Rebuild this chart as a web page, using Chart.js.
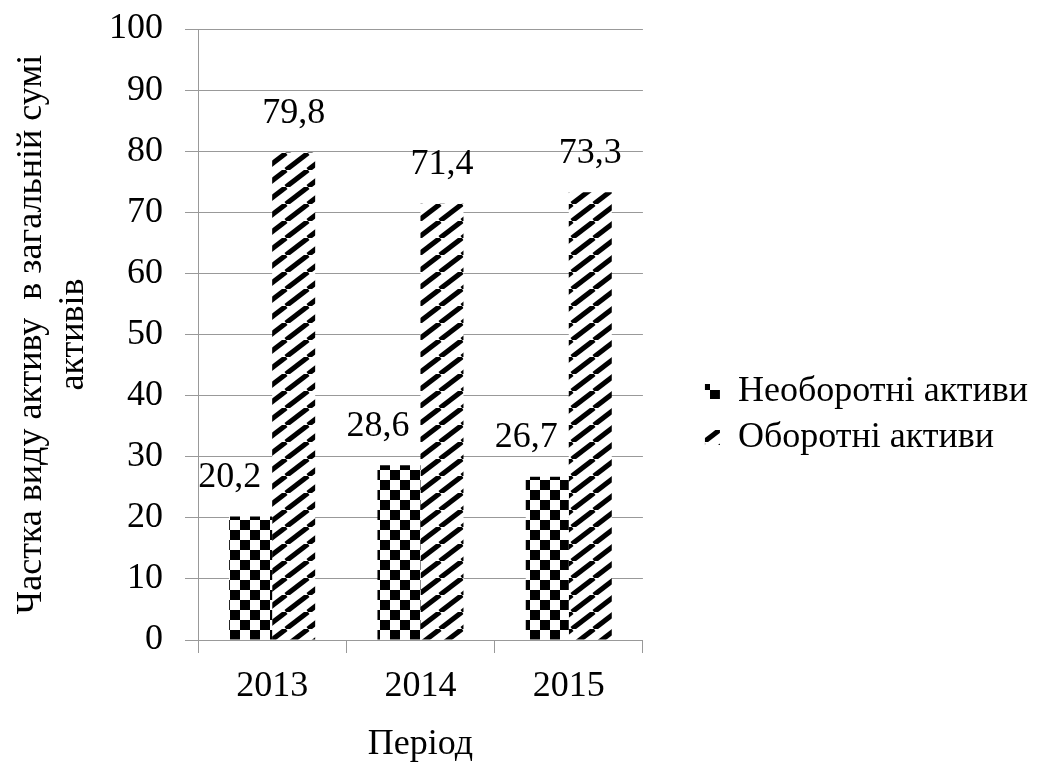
<!DOCTYPE html>
<html lang="uk">

<head>
    <meta charset="UTF-8">
    <title>Структура активів</title>
    <style>
        body { margin: 0; background: #fff; }
        #wrap { width: 1053px; height: 763px; }
    </style>
</head>

<body>

    <div id="wrap">
        <canvas id="myChart" width="1053" height="763"></canvas>
    </div>

    <script src="https://cdnjs.cloudflare.com/ajax/libs/Chart.js/4.4.1/chart.umd.js"></script>

    <script>
        // chart data
        var periods = ['2013', '2014', '2015'];
        var seriesNames = ['Необоротні активи', 'Оборотні активи'];
        var nonCurrent = [20.2, 28.6, 26.7];
        var current = [79.8, 71.4, 73.3];
        var yTitle = ['Частка виду активу  в загальній сумі', 'активів'];
        var xTitle = 'Період';

        var serif = '"Liberation Serif", "Times New Roman", serif';

        function checkerPattern(size) {
            var c = document.createElement('canvas');
            c.width = c.height = size * 2;
            var g = c.getContext('2d');
            g.fillStyle = '#fff';
            g.fillRect(0, 0, size * 2, size * 2);
            g.fillStyle = '#000';
            g.fillRect(0, 0, size, size);
            g.fillRect(size, size, size, size);
            return g.createPattern(c, 'repeat');
        }

        function stripePattern(w, h, lw) {
            var c = document.createElement('canvas');
            c.width = w;
            c.height = h;
            var g = c.getContext('2d');
            g.fillStyle = '#fff';
            g.fillRect(0, 0, w, h);
            g.strokeStyle = '#000';
            g.lineWidth = lw;
            for (var k = -1; k <= 1; k++) {
                g.beginPath();
                g.moveTo(k * w, h);
                g.lineTo(k * w + w, 0);
                g.stroke();
            }
            return g.createPattern(c, 'repeat');
        }

        // extra room between plot and legend
        var legendGap = {
            id: 'legendGap',
            beforeInit: function (chart) {
                Chart.layouts.addBox(chart, {
                    position: 'right',
                    weight: 0,
                    fullSize: false,
                    options: {},
                    width: 0,
                    height: 0,
                    isHorizontal: function () { return false; },
                    update: function (maxW, maxH) { this.width = 52; this.height = maxH; },
                    draw: function () {}
                });
            }
        };

        // value labels above the bars
        var labelOffsets = [-21, 0];
        var valueLabels = {
            id: 'valueLabels',
            afterDatasetsDraw: function (chart) {
                var ctx = chart.ctx;
                ctx.save();
                ctx.font = '36px ' + serif;
                ctx.fillStyle = '#000';
                ctx.textAlign = 'center';
                ctx.textBaseline = 'middle';
                chart.data.datasets.forEach(function (ds, i) {
                    chart.getDatasetMeta(i).data.forEach(function (bar, j) {
                        var txt = String(ds.data[j]).replace('.', ',');
                        ctx.fillText(txt, bar.x + labelOffsets[i], bar.y - 39);
                    });
                });
                ctx.restore();
            }
        };

        var ctx = document.getElementById('myChart').getContext('2d');
        var myChart = new Chart(ctx, {
            type: 'bar',
            data: {
                labels: periods,
                datasets: [
                    {
                        label: seriesNames[0],
                        data: nonCurrent,
                        backgroundColor: checkerPattern(10),
                        borderWidth: 0
                    },
                    {
                        label: seriesNames[1],
                        data: current,
                        backgroundColor: stripePattern(22, 17, 5),
                        borderWidth: 0
                    }
                ]
            },
            options: {
                responsive: false,
                animation: false,
                layout: { padding: { top: 0, right: 15, bottom: 0, left: 11 } },
                datasets: {
                    bar: { categoryPercentage: 0.58, barPercentage: 1.0 }
                },
                plugins: {
                    tooltip: { enabled: false },
                    legend: {
                        position: 'right',
                        align: 'center',
                        maxWidth: 420,
                        title: { display: true, text: ' ', font: { size: 10 }, padding: { top: 54, bottom: 0 } },
                        labels: {
                            color: '#000',
                            font: { family: serif, size: 36 },
                            boxWidth: 15,
                            boxHeight: 15,
                            padding: 10
                        }
                    }
                },
                scales: {
                    x: {
                        grid: { drawOnChartArea: false, color: '#999', tickLength: 13 },
                        border: { color: '#999' },
                        ticks: { color: '#000', font: { family: serif, size: 36, lineHeight: 1.0 }, padding: 16 },
                        title: {
                            display: true,
                            text: xTitle,
                            color: '#000',
                            font: { family: serif, size: 36, lineHeight: 1.0 },
                            padding: { top: 6, bottom: 0 }
                        }
                    },
                    y: {
                        min: 0,
                        max: 100,
                        ticks: { stepSize: 10, color: '#000', font: { family: serif, size: 36, lineHeight: 1.0 }, padding: 22 },
                        grid: { color: '#999', tickLength: 13 },
                        border: { color: '#999' },
                        title: {
                            display: true,
                            text: yTitle,
                            color: '#000',
                            font: { family: serif, size: 36, lineHeight: 1.15 },
                            padding: { top: 0, bottom: 30 }
                        },
                        afterFit: function (scale) {
                            scale.width = 187;
                            scale.paddingTop = 29;
                        }
                    }
                }
            },
            plugins: [legendGap, valueLabels]
        });
    </script>

</body>

</html>
